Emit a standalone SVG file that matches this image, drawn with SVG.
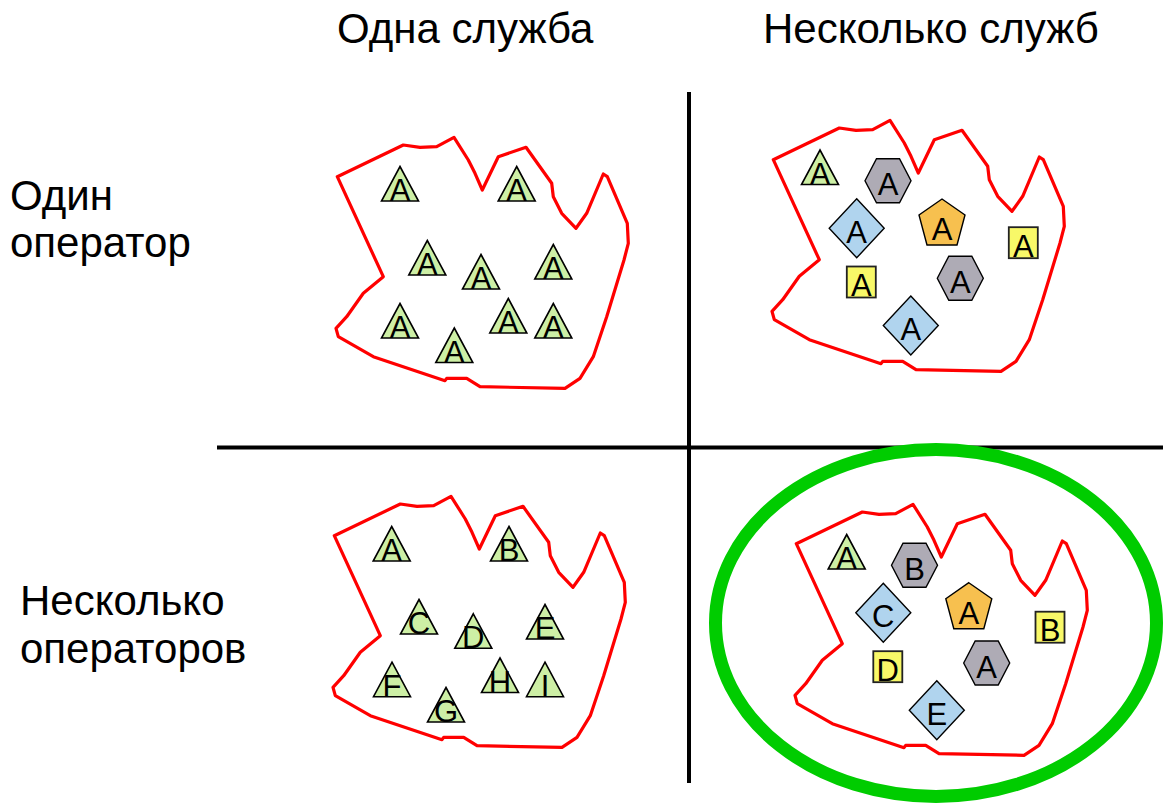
<svg xmlns="http://www.w3.org/2000/svg" xmlns:xlink="http://www.w3.org/1999/xlink" width="1163" height="804" viewBox="0 0 1163 804">
<style>
.lbl{font-family:"Liberation Sans",Arial,sans-serif;font-size:42px;fill:#000}
.ltr{font-family:"Liberation Sans",Arial,sans-serif;font-size:31px;fill:#000;text-anchor:middle}
.blob{fill:none;stroke:#ff0000;stroke-width:3.2;stroke-linejoin:round}
.tri{fill:#cdefa5;stroke:#000;stroke-width:1.6}
.hex{fill:#aeabb5;stroke:#000;stroke-width:1.4}
.dia{fill:#b0d4ee;stroke:#000;stroke-width:1.4}
.pen{fill:#f7c04f;stroke:#000;stroke-width:1.4}
.sq{fill:#f8f868;stroke:#222;stroke-width:1.8}
.axis{stroke:#000;stroke-width:4}
</style>
<defs>
<path id="blob" class="blob" d="M337.3,176.7 L403.3,145 L420,147.3 L436.7,146.7 L454,137.3 L468.3,160 L475,173.3 L482.3,190 L498.3,156.7 L526,147.3 L551.7,183.3 L553.3,196.7 L561.7,213.3 L576,228.3 L586.7,213.3 L603.3,174 L607.3,176.7 L627.3,223.3 L628.3,243.3 L624,260 L606.7,316.7 L593.3,356.7 L580,378.3 L565,388.3 L480,386.7 L466.7,378.3 L446.7,378.3 L445,380.7 L373.3,356.7 L338.3,336.7 L336,328.3 L346.7,316.7 L363.3,293.3 L373.3,285 L383.3,276.7 Z"/>
<polygon id="tri" class="tri" points="0,-17.5 18.5,17 -18.5,17"/>
<polygon id="hex" class="hex" points="-23,0 -11.5,-22 11.5,-22 23,0 11.5,22 -11.5,22"/>
<polygon id="dia" class="dia" points="0,-29.5 27.5,0 0,29.5 -27.5,0"/>
<polygon id="pen" class="pen" points="0,-24 23,-8 15,22 -15,22 -23,-8"/>
<rect id="sq" class="sq" x="-14.5" y="-15.5" width="29" height="31"/>
</defs>

<g id="headers">
<text class="lbl" x="337" y="43">Одна служба</text>
<text class="lbl" x="763" y="43">Несколько служб</text>
<text class="lbl" x="10" y="210">Один</text>
<text class="lbl" x="10" y="257">оператор</text>
<text class="lbl" x="20" y="615">Несколько</text>
<text class="lbl" x="20" y="663">операторов</text>
</g>

<g id="connectors">
<line class="axis" x1="689" y1="92" x2="689" y2="783"/>
<line class="axis" x1="217" y1="447.5" x2="1163" y2="447.5"/>
<ellipse cx="936" cy="623" rx="220.5" ry="173.5" fill="none" stroke="#00cc00" stroke-width="13"/>
</g>

<g id="blobs">
<use xlink:href="#blob"/>
<use xlink:href="#blob" transform="translate(436,-17)"/>
<use xlink:href="#blob" transform="translate(-3,359)"/>
<use xlink:href="#blob" transform="translate(459,367)"/>
</g>

<!-- top-left -->
<g id="tl1" transform="translate(400,184)"><use xlink:href="#tri"/><text class="ltr" y="17">A</text></g>
<g id="tl2" transform="translate(516.7,184)"><use xlink:href="#tri"/><text class="ltr" y="17">A</text></g>
<g id="tl3" transform="translate(427.3,258)"><use xlink:href="#tri"/><text class="ltr" y="17">A</text></g>
<g id="tl4" transform="translate(481,272)"><use xlink:href="#tri"/><text class="ltr" y="17">A</text></g>
<g id="tl5" transform="translate(553.3,262)"><use xlink:href="#tri"/><text class="ltr" y="17">A</text></g>
<g id="tl6" transform="translate(400,321)"><use xlink:href="#tri"/><text class="ltr" y="17">A</text></g>
<g id="tl7" transform="translate(508.3,316)"><use xlink:href="#tri"/><text class="ltr" y="17">A</text></g>
<g id="tl8" transform="translate(553.3,321)"><use xlink:href="#tri"/><text class="ltr" y="17">A</text></g>
<g id="tl9" transform="translate(454.3,345.5)"><use xlink:href="#tri"/><text class="ltr" y="17">A</text></g>

<!-- top-right -->
<g id="tr1" transform="translate(820,167.5)"><use xlink:href="#tri"/><text class="ltr" y="17">A</text></g>
<g id="tr2" transform="translate(888,180.8)"><use xlink:href="#hex"/><text class="ltr" y="14.5">A</text></g>
<g id="tr3" transform="translate(856.7,228.3)"><use xlink:href="#dia"/><text class="ltr" y="14.5">A</text></g>
<g id="tr4" transform="translate(942,223)"><use xlink:href="#pen"/><text class="ltr" y="17">A</text></g>
<g id="tr5" transform="translate(1023.3,242.7)"><use xlink:href="#sq"/><text class="ltr" y="14">A</text></g>
<g id="tr6" transform="translate(861.3,282)"><use xlink:href="#sq"/><text class="ltr" y="14">A</text></g>
<g id="tr7" transform="translate(960.3,278.3)"><use xlink:href="#hex"/><text class="ltr" y="14.5">A</text></g>
<g id="tr8" transform="translate(910.8,325.5)"><use xlink:href="#dia"/><text class="ltr" y="14.5">A</text></g>

<!-- bottom-left -->
<g id="bl1" transform="translate(391.7,544)"><use xlink:href="#tri"/><text class="ltr" y="17">A</text></g>
<g id="bl2" transform="translate(509,544)"><use xlink:href="#tri"/><text class="ltr" y="17">B</text></g>
<g id="bl3" transform="translate(419,617)"><use xlink:href="#tri"/><text class="ltr" y="17">C</text></g>
<g id="bl4" transform="translate(473.3,631.3)"><use xlink:href="#tri"/><text class="ltr" y="17">D</text></g>
<g id="bl5" transform="translate(545,622)"><use xlink:href="#tri"/><text class="ltr" y="17">E</text></g>
<g id="bl6" transform="translate(392,679.7)"><use xlink:href="#tri"/><text class="ltr" y="17">F</text></g>
<g id="bl7" transform="translate(446,705)"><use xlink:href="#tri"/><text class="ltr" y="17">G</text></g>
<g id="bl8" transform="translate(500,675.5)"><use xlink:href="#tri"/><text class="ltr" y="17">H</text></g>
<g id="bl9" transform="translate(545,679.7)"><use xlink:href="#tri"/><text class="ltr" y="17">I</text></g>

<!-- bottom-right -->
<g id="br1" transform="translate(846.7,552)"><use xlink:href="#tri"/><text class="ltr" y="17">A</text></g>
<g id="br2" transform="translate(914.5,565.3)"><use xlink:href="#hex"/><text class="ltr" y="14.5">B</text></g>
<g id="br3" transform="translate(883.3,612.7)"><use xlink:href="#dia"/><text class="ltr" y="14.5">C</text></g>
<g id="br4" transform="translate(968.8,606.7)"><use xlink:href="#pen"/><text class="ltr" y="17">A</text></g>
<g id="br5" transform="translate(1050,627.2)"><use xlink:href="#sq"/><text class="ltr" y="14">B</text></g>
<g id="br6" transform="translate(887.8,666.7)"><use xlink:href="#sq"/><text class="ltr" y="14">D</text></g>
<g id="br7" transform="translate(986.7,663)"><use xlink:href="#hex"/><text class="ltr" y="14.5">A</text></g>
<g id="br8" transform="translate(936.8,710.3)"><use xlink:href="#dia"/><text class="ltr" y="14.5">E</text></g>
</svg>
